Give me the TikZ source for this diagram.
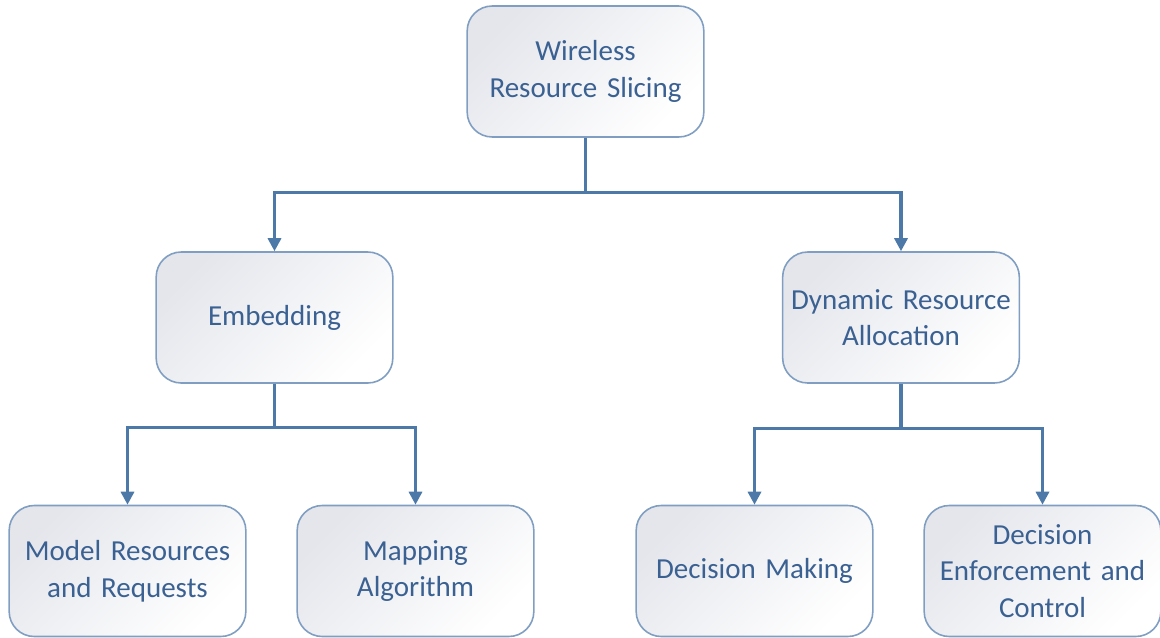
\documentclass[tikz,border=0pt]{standalone}
\usepackage{fontspec}
\setmainfont{Carlito}
\usetikzlibrary{arrows.meta}

\definecolor{boxline}{HTML}{7F9EC2}
\definecolor{boxtext}{HTML}{3A6192}
\definecolor{boxshade}{HTML}{E4E6EC}
\definecolor{linkblue}{HTML}{4D79A9}

\begin{document}
\begin{tikzpicture}[
    x=0.02cm, y=-0.02cm,
    block/.style={rectangle, rounded corners=0.5cm, draw=boxline, line width=0.9pt,
                  shading=axis, top color=boxshade, bottom color=white, shading angle=45,
                  minimum width=4.7cm, minimum height=2.62cm,
                  text width=4.5cm, align=center, text=boxtext,
                  font=\fontsize{16.5}{20.8}\selectfont},
    arrow/.style={-{Triangle[length=0.26cm, width=0.26cm]}, draw=linkblue, line width=1.8pt}
  ]
    \useasboundingbox (0,0) rectangle (1160,637);

    % Root
    \node[block] (root) at (585.5, 71.5) {Wireless\\Resource Slicing};

    % Second level
    \node[block] (embed) at (274.5, 317.5) {Embedding};
    \node[block] (alloc) at (901, 317.5) {Dynamic Resource\\Allocation};

    % Leaves
    \node[block] (model) at (127.5, 571) {Model Resources\\and Requests};
    \node[block] (mapping) at (415.5, 571) {Mapping\\Algorithm};
    \node[block] (decide) at (754.5, 571) {Decision Making};
    \node[block] (enforce) at (1042.5, 571) {Decision\\Enforcement and\\Control};

    % Arrows
    \draw[arrow] (root.south) -- ++(0,55) -| (embed.north);
    \draw[arrow] (root.south) -- ++(0,55) -| (alloc.north);

    \draw[arrow] (embed.south) -- ++(0,44) -| (model.north);
    \draw[arrow] (embed.south) -- ++(0,44) -| (mapping.north);

    \draw[arrow] (alloc.south) -- ++(0,45) -| (decide.north);
    \draw[arrow] (alloc.south) -- ++(0,45) -| (enforce.north);

\end{tikzpicture}
\end{document}
